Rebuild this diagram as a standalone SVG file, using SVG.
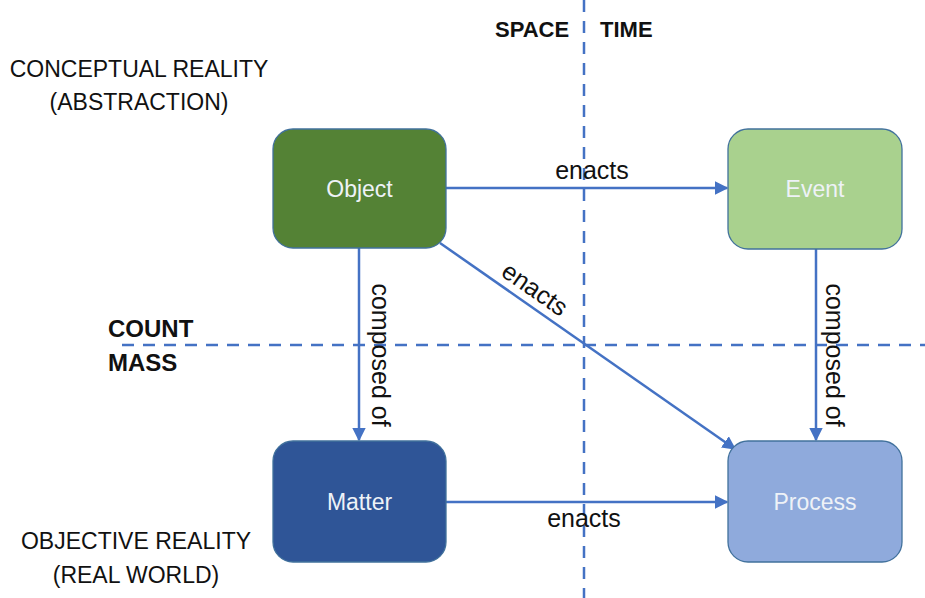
<svg xmlns="http://www.w3.org/2000/svg" width="925" height="598" viewBox="0 0 925 598">
  <style>
    .axis { stroke: #4472C4; stroke-width: 2.5; stroke-dasharray: 12 9; fill: none; }
    .edge { stroke: #4472C4; stroke-width: 2.5; fill: none; marker-end: url(#arrow); }
    .node rect { stroke: #41719C; stroke-width: 1.3; }
    .node text { font-family: "Liberation Sans", "Open Sans", sans-serif; font-size: 23px; fill: #EEF2F7; text-anchor: middle; dominant-baseline: central; }
    .lbl { font-family: "Liberation Sans", "Open Sans", sans-serif; font-size: 25px; fill: #111; text-anchor: middle; }
    .head { font-family: "Liberation Sans", "Open Sans", sans-serif; font-size: 22px; font-weight: bold; fill: #111; }
    .head2 { font-family: "Liberation Sans", "Open Sans", sans-serif; font-size: 24px; font-weight: bold; fill: #111; }
    .side { font-family: "Liberation Sans", "Open Sans", sans-serif; font-size: 23px; fill: #111; text-anchor: middle; }
  </style>
  <defs>
    <marker id="arrow" viewBox="0 0 10 10" refX="9" refY="5" markerWidth="5.5" markerHeight="5.5" orient="auto" markerUnits="strokeWidth">
      <path d="M0,0 L10,5 L0,10 z" fill="#4472C4"/>
    </marker>
  </defs>
  <rect width="925" height="598" fill="#ffffff"/>

  <!-- quadrant axes -->
  <g id="axes">
    <line class="axis" x1="584" y1="0" x2="584" y2="598"/>
    <line class="axis" x1="122" y1="345" x2="925" y2="345"/>
  </g>

  <!-- axis and row headings -->
  <g id="headings">
    <text class="head" x="495" y="37">SPACE</text>
    <text class="head" x="600" y="37">TIME</text>
    <text class="head2" x="108" y="337">COUNT</text>
    <text class="head2" x="108" y="371">MASS</text>
    <text class="side" x="139" y="77">CONCEPTUAL REALITY</text>
    <text class="side" x="139" y="110">(ABSTRACTION)</text>
    <text class="side" x="136" y="549">OBJECTIVE REALITY</text>
    <text class="side" x="136" y="583">(REAL WORLD)</text>
  </g>

  <!-- connectors -->
  <g id="connectors">
    <line class="edge" x1="446" y1="188" x2="727" y2="188"/>
    <line class="edge" x1="440" y1="243" x2="735" y2="449"/>
    <line class="edge" x1="359" y1="248" x2="359" y2="440"/>
    <line class="edge" x1="816" y1="249" x2="816" y2="440"/>
    <line class="edge" x1="446" y1="502" x2="727" y2="502"/>
    <text class="lbl" x="592" y="179">enacts</text>
    <text class="lbl" transform="translate(530 296) rotate(34.9)">enacts</text>
    <text class="lbl" transform="translate(372 355) rotate(90)">composed of</text>
    <text class="lbl" transform="translate(826 355) rotate(90)">composed of</text>
    <text class="lbl" x="584" y="527">enacts</text>
  </g>

  <!-- nodes -->
  <g id="object" class="node">
    <rect x="273" y="129" width="173" height="119" rx="20" fill="#548235"/>
    <text x="359.5" y="189">Object</text>
  </g>
  <g id="event" class="node">
    <rect x="728" y="129" width="174" height="120" rx="20" fill="#A9D18E"/>
    <text x="815" y="189">Event</text>
  </g>
  <g id="matter" class="node">
    <rect x="273" y="441" width="173" height="121" rx="20" fill="#2F5597"/>
    <text x="359.5" y="502">Matter</text>
  </g>
  <g id="process" class="node">
    <rect x="728" y="441" width="174" height="121" rx="20" fill="#8FAADC"/>
    <text x="815" y="502">Process</text>
  </g>
</svg>
